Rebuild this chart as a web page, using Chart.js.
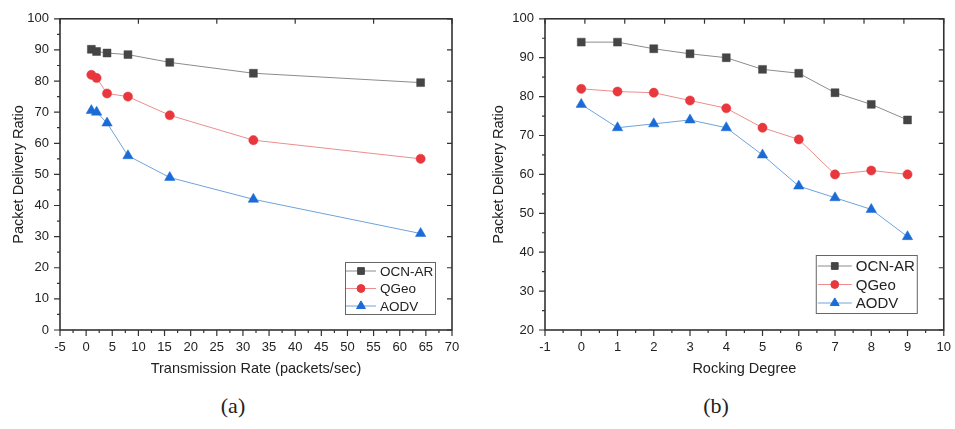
<!DOCTYPE html>
<html>
<head>
<meta charset="utf-8">
<script src="https://cdn.jsdelivr.net/npm/chart.js@4"></script>
<style>
  body { margin: 0; background: #fff; width: 955px; height: 429px; position: relative; overflow: hidden; }
  .wrap { position: absolute; top: 0; height: 390px; }
  #wrapA { left: 0; width: 470px; }
  #wrapB { left: 480px; width: 481px; }
  .cap { position: absolute; top: 395px; font-family: "Liberation Serif", serif; font-size: 22px; line-height: 1; color: #222; transform: translateX(-50%); }
</style>
</head>
<body>
<div class="wrap" id="wrapA"><canvas id="chartA" width="470" height="390"></canvas></div>
<div class="wrap" id="wrapB"><canvas id="chartB" width="481" height="390"></canvas></div>
<div class="cap" style="left:233px">(a)</div>
<div class="cap" style="left:716px">(b)</div>
<script>
// series names
const seriesNames = ["OCN-AR", "QGeo", "AODV"];

// (a) transmission rate
const rateX = [1, 2, 4, 8, 16, 32, 64];
const rateOcn = [90.2, 89.5, 89, 88.5, 86, 82.5, 79.5];
const rateQgeo = [82, 81, 76, 75, 69, 61, 55];
const rateAodv = [70.5, 70, 66.5, 56, 49, 42, 31];

// (b) rocking degree
const rockX = [0, 1, 2, 3, 4, 5, 6, 7, 8, 9];
const rockOcn = [94, 94, 92.3, 91, 90, 87, 86, 81, 78, 74];
const rockQgeo = [82, 81.3, 81, 79, 77, 72, 69, 60, 61, 60];
const rockAodv = [78, 72, 73, 74, 72, 65, 57, 54, 51, 44];

const styles = [
    { fill: "#454545", line: "#8c8c8c", shape: "rect", r: 5.6 },
    { fill: "#e8383d", line: "#ec8d8d", shape: "circle", r: 4.6 },
    { fill: "#1b6bd6", line: "#6ea2dc", shape: "triangle", r: 6 },
];

const FONT = "'Liberation Sans', Arial, sans-serif";
const INK = "#222";

function makeSets(xs, lists) {
    return lists.map((ys, i) => ({
        label: seriesNames[i],
        data: xs.map((x, k) => ({ x: x, y: ys[k] })),
        showLine: true,
        borderColor: styles[i].line,
        borderWidth: 1,
        pointStyle: styles[i].shape,
        pointRadius: styles[i].r,
        pointBackgroundColor: styles[i].fill,
        pointBorderColor: styles[i].fill,
        pointBorderWidth: 0.5,
        tension: 0,
    }));
}

// frame, ticks and the boxed legend, Origin style
const framePlugin = {
    id: "frame",
    afterDraw(chart, args, opts) {
        const ctx = chart.ctx;
        const a = chart.chartArea;
        const sx = chart.scales.x, sy = chart.scales.y;
        const tx = chart.scales.x2, ty = chart.scales.y2;
        ctx.save();
        ctx.strokeStyle = "#333";
        ctx.lineWidth = 1.2;
        ctx.beginPath();
        // bottom ticks (outward), with minors
        sx.ticks.forEach((t, i) => {
            const p = sx.getPixelForValue(t.value);
            ctx.moveTo(p, a.bottom); ctx.lineTo(p, a.bottom + 6);
            if (i < sx.ticks.length - 1) {
                const m = sx.getPixelForValue((t.value + sx.ticks[i + 1].value) / 2);
                ctx.moveTo(m, a.bottom); ctx.lineTo(m, a.bottom + 3);
            }
        });
        // left ticks (outward), with minors
        sy.ticks.forEach((t, i) => {
            const p = sy.getPixelForValue(t.value);
            ctx.moveTo(a.left, p); ctx.lineTo(a.left - 6, p);
            if (i < sy.ticks.length - 1) {
                const m = sy.getPixelForValue((t.value + sy.ticks[i + 1].value) / 2);
                ctx.moveTo(a.left, m); ctx.lineTo(a.left - 3, m);
            }
        });
        // top and right ticks (inward)
        tx.ticks.forEach(t => {
            const p = tx.getPixelForValue(t.value);
            ctx.moveTo(p, a.top); ctx.lineTo(p, a.top + 5);
        });
        ty.ticks.forEach(t => {
            const p = ty.getPixelForValue(t.value);
            ctx.moveTo(a.right, p); ctx.lineTo(a.right - 5, p);
        });
        ctx.stroke();
        ctx.lineWidth = 1.6;
        ctx.strokeRect(a.left, a.top, a.right - a.left, a.bottom - a.top);

        // legend box
        const L = opts.legend;
        const bx = a.right - L.right - L.w, by = a.bottom - L.bottom - L.h;
        ctx.fillStyle = "#fff";
        ctx.fillRect(bx, by, L.w, L.h);
        ctx.strokeStyle = "#666";
        ctx.lineWidth = 1;
        ctx.strokeRect(bx + 0.5, by + 0.5, L.w, L.h);
        ctx.font = L.font + "px " + FONT;
        ctx.textBaseline = "middle";
        chart.data.datasets.forEach((ds, i) => {
            const y = by + L.first + i * L.gap;
            ctx.strokeStyle = ds.borderColor;
            ctx.lineWidth = 1;
            ctx.beginPath();
            ctx.moveTo(bx + L.line0, y); ctx.lineTo(bx + L.line1, y);
            ctx.stroke();
            ctx.fillStyle = ds.pointBackgroundColor;
            ctx.strokeStyle = ds.pointBackgroundColor;
            Chart.helpers.drawPoint(ctx, { pointStyle: ds.pointStyle, radius: ds.pointRadius * 0.85, borderWidth: 0.5, rotation: 0 }, bx + (L.line0 + L.line1) / 2, y);
            ctx.fillStyle = INK;
            ctx.fillText(ds.label, bx + L.text, y + 1);
        });
        ctx.restore();
    },
};

function makeChart(id, cfg) {
    const tickFont = { family: FONT, size: 13 };
    const titleFont = { family: FONT, size: 14.5 };
    return new Chart(document.getElementById(id), {
        type: "scatter",
        data: { datasets: cfg.datasets },
        plugins: [framePlugin],
        options: {
            responsive: false,
            animation: false,
            layout: { padding: { top: cfg.top, right: cfg.right, left: 0, bottom: 0 } },
            plugins: {
                legend: { display: false },
                tooltip: { enabled: false },
                frame: { legend: cfg.legend },
            },
            scales: {
                x: {
                    type: "linear", position: "bottom",
                    min: cfg.xMin, max: cfg.xMax,
                    ticks: { stepSize: cfg.xStep, color: INK, font: tickFont, padding: 10, maxRotation: 0 },
                    grid: { display: false, drawTicks: false },
                    border: { display: false },
                    title: { display: true, text: cfg.xTitle, color: INK, font: titleFont, padding: { top: 0, bottom: 12 } },
                    afterFit: s => { s.height = 60; },
                },
                y: {
                    type: "linear", position: "left",
                    min: cfg.yMin, max: cfg.yMax,
                    ticks: { stepSize: 10, color: INK, font: tickFont, padding: 11 },
                    grid: { display: false, drawTicks: false },
                    border: { display: false },
                    title: { display: true, text: "Packet Delivery Ratio", color: INK, font: titleFont, padding: { top: 10, bottom: 0 } },
                    afterFit: s => { s.width = cfg.yWidth; },
                },
                x2: {
                    type: "linear", position: "top",
                    min: 0, max: cfg.topMax,
                    ticks: { display: false, stepSize: 1 },
                    grid: { display: false, drawTicks: false },
                    border: { display: false },
                    afterFit: s => { s.height = 0; },
                },
                y2: {
                    type: "linear", position: "right",
                    min: cfg.rightMin, max: cfg.rightMax,
                    ticks: { display: false, stepSize: cfg.rightStep },
                    grid: { display: false, drawTicks: false },
                    border: { display: false },
                    afterFit: s => { s.width = 0; },
                },
            },
        },
    });
}

makeChart("chartA", {
    datasets: makeSets(rateX, [rateOcn, rateQgeo, rateAodv]),
    xMin: -5, xMax: 70, xStep: 5, yMin: 0, yMax: 100,
    xTitle: "Transmission Rate (packets/sec)",
    top: 14, right: 18, yWidth: 60,
    topMax: 5, rightMin: 0, rightMax: 100, rightStep: 10,
    legend: { w: 90, h: 52, right: 17, bottom: 16, font: 13.5, first: 9, gap: 17.5, line0: 1, line1: 31, text: 35 },
});

makeChart("chartB", {
    datasets: makeSets(rockX, [rockOcn, rockQgeo, rockAodv]),
    xMin: -1, xMax: 10, xStep: 1, yMin: 20, yMax: 100,
    xTitle: "Rocking Degree",
    top: 7, right: 5, yWidth: 65,
    topMax: 10, rightMin: 0, rightMax: 10, rightStep: 1,
    legend: { w: 101, h: 58, right: 27, bottom: 17, font: 15, first: 11, gap: 18.5, line0: 2, line1: 36, text: 40 },
});
</script>
</body>
</html>
